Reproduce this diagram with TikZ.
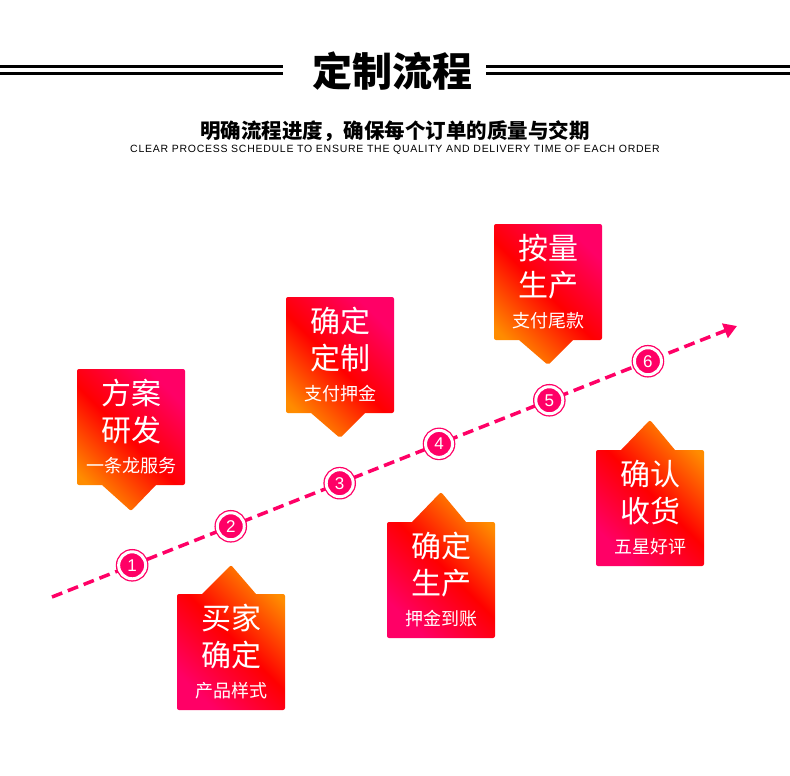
\documentclass[tikz,border=0pt]{standalone}
\usepackage{fontspec}
\setmainfont{Liberation Sans}
\newfontfamily\cjk{Noto Sans CJK SC}
\newfontfamily\engfont[LetterSpace=7]{Liberation Sans}
\usetikzlibrary{positioning,arrows.meta,calc,shapes.callouts}

\definecolor{flowpink}{HTML}{FF0066}
\definecolor{flowred}{HTML}{FF0000}
\definecolor{floworange}{HTML}{FF8C00}

\begin{document}
\begin{tikzpicture}[x=1pt, y=-1pt,
    rule/.style={line width=3pt},
    stepbox/.style={rectangle callout, rounded corners=2pt, minimum width=108pt, minimum height=116pt,
      inner sep=0pt, text=white, align=center, callout pointer width=54pt,
      font=\cjk\fontsize{30}{37}\selectfont},
    downbox/.style={stepbox, top color=flowpink, bottom color=floworange, middle color=flowred, shading angle=-45},
    upbox/.style={stepbox, top color=floworange, bottom color=flowpink, middle color=flowred, shading angle=-45},
    num/.style={circle, fill=flowpink, draw=flowpink, double=white, double distance=3pt, line width=1.3pt,
      minimum size=27pt, inner sep=0pt, text=white, font=\fontsize{17}{17}\selectfont},
    flow/.style={flowpink, line width=3.5pt, dash pattern=on 11pt off 6pt, -{Triangle[length=13pt,width=15pt]}}]
  \fill[white] (0,0) rectangle (790,776);
  \useasboundingbox (0,0) rectangle (790,776);
  % heading
  \node[font=\cjk\bfseries\fontsize{40}{40}\selectfont] (title) at (392,71) {定制流程};
  \foreach \y in {67,73.5} {
    \draw[rule] (0,\y) -- (283,\y);
    \draw[rule] (486,\y) -- (790,\y);
  }
  \node[font=\cjk\bfseries\fontsize{20.5}{21}\selectfont] (sub) at (395,131) {明确流程进度，确保每个订单的质量与交期};
  \node[font=\engfont\fontsize{10.5}{10.5}\selectfont] (subeng) at (395,150)
    {CLEAR PROCESS SCHEDULE TO ENSURE THE QUALITY AND DELIVERY TIME OF EACH ORDER};
  % timeline
  \coordinate (start) at (52,597);
  \coordinate (end) at (737,326);
  \draw[flow] (start) -- (end);
  \node[num] (n1) at ($(start)!0.117!(end)$) {1};
  \node[num] (n2) at ($(start)!0.261!(end)$) {2};
  \node[num] (n3) at ($(start)!0.420!(end)$) {3};
  \node[num] (n4) at ($(start)!0.565!(end)$) {4};
  \node[num] (n5) at ($(start)!0.726!(end)$) {5};
  \node[num] (n6) at ($(start)!0.870!(end)$) {6};
  % steps
  \node[downbox, callout absolute pointer={(131,511)}] (plan) at (131,427)
    {方案\\研发\\[-6pt]{\fontsize{18}{20}\selectfont 一条龙服务}};
  \node[upbox, callout absolute pointer={(231,565)}] (buyer) at (231,652)
    {买家\\确定\\[-6pt]{\fontsize{18}{20}\selectfont 产品样式}};
  \node[downbox, callout absolute pointer={(340,438)}] (order) at (340,355)
    {确定\\定制\\[-6pt]{\fontsize{18}{20}\selectfont 支付押金}};
  \node[upbox, callout absolute pointer={(441,492)}] (make) at (441,580)
    {确定\\生产\\[-6pt]{\fontsize{18}{20}\selectfont 押金到账}};
  \node[downbox, callout absolute pointer={(548,365)}] (batch) at (548,282)
    {按量\\生产\\[-6pt]{\fontsize{18}{20}\selectfont 支付尾款}};
  \node[upbox, callout absolute pointer={(650,420)}] (receive) at (650,508)
    {确认\\收货\\[-6pt]{\fontsize{18}{20}\selectfont 五星好评}};
\end{tikzpicture}
\end{document}
